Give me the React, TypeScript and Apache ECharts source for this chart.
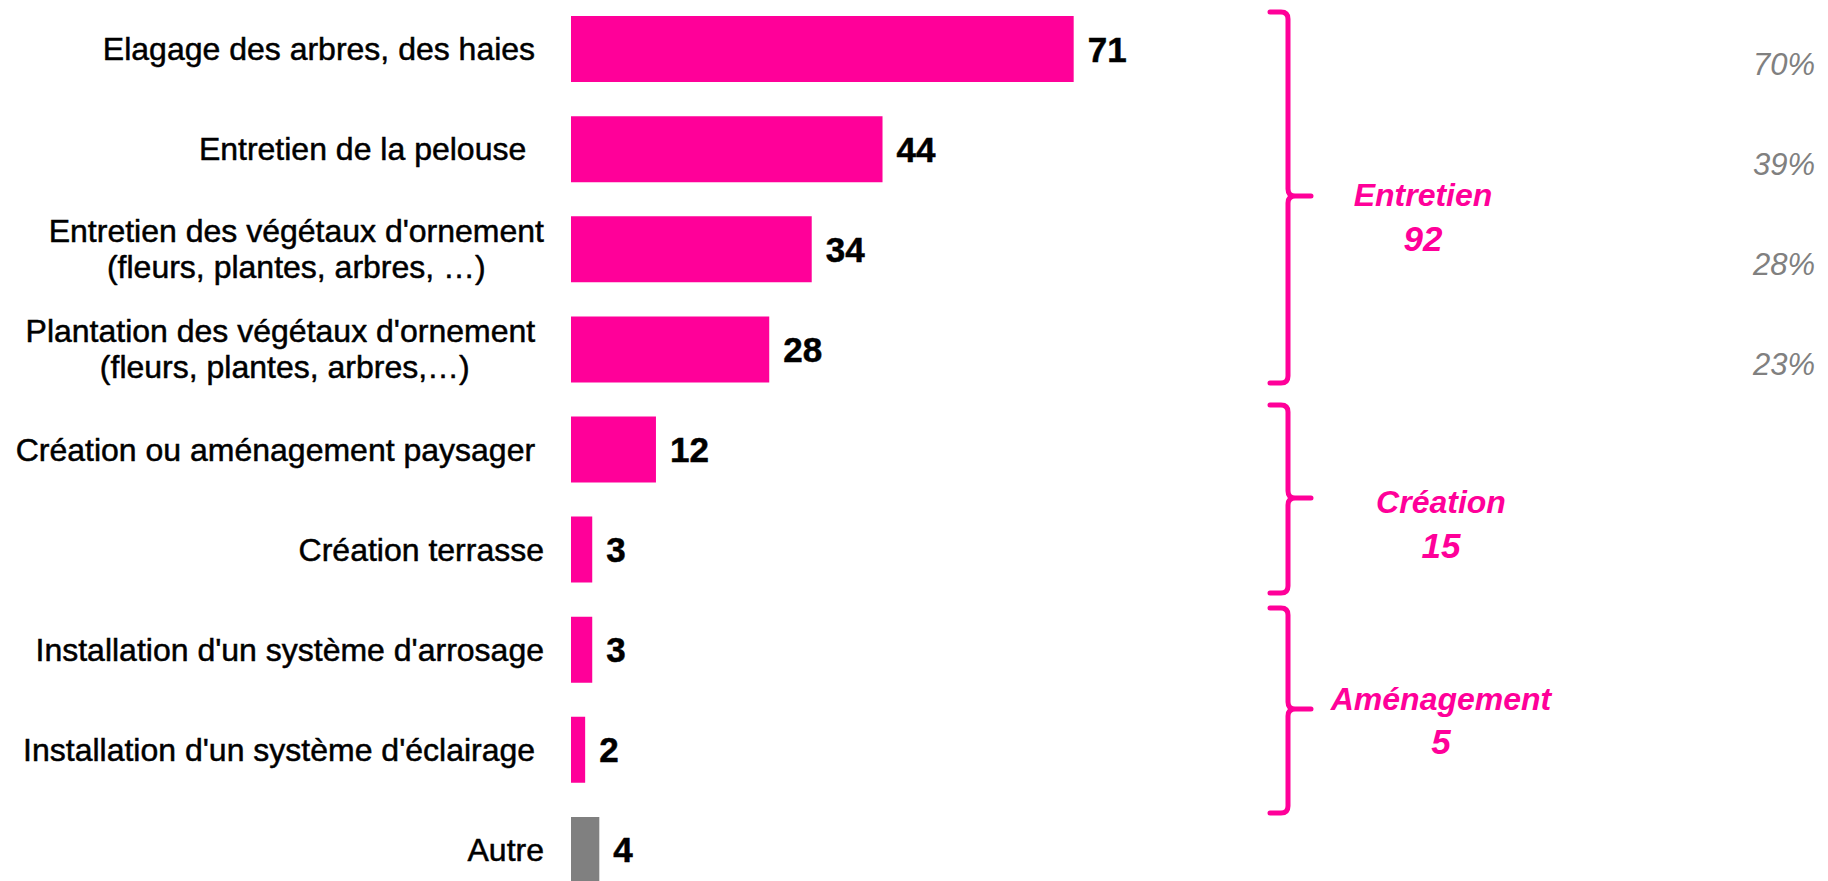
import React, { useEffect, useRef } from "react";
import * as echarts from "echarts";

// ---- data ----
const categories = [
  "Elagage des arbres, des haies ",
  "Entretien de la pelouse  ",
  "Entretien des végétaux d'ornement\n(fleurs, plantes, arbres, …)",
  "Plantation des végétaux d'ornement \n(fleurs, plantes, arbres,…)",
  "Création ou aménagement paysager ",
  "Création terrasse",
  "Installation d'un système d'arrosage",
  "Installation d'un système d'éclairage ",
  "Autre",
];
const values = [71, 44, 34, 28, 12, 3, 3, 2, 4];
const shareLabels = ["70%", "39%", "28%", "23%"];
const groupNames = ["Entretien", "Création", "Aménagement"];
const groupTotals = [92, 15, 5];

// ---- styles / layout ----
const MAGENTA = "#FF0099";
const GREY = "#808080";
const FONT = '"Liberation Sans", Arial, sans-serif';
const braceSpans = [
  [12, 196, 383],
  [405, 498, 593],
  [608, 709, 813],
];
const groupLabelPos = [
  [1423, 195, 238],
  [1441, 502, 545],
  [1441, 699, 741],
];
const BRACE_XL = 1270;
const BRACE_XV = 1288;
const BRACE_XT = 1311;

echarts.graphic.registerShape(
  "brace",
  echarts.graphic.extendShape({
    shape: { xl: 0, xv: 0, xt: 0, y1: 0, ym: 0, y2: 0, r: 7 },
    buildPath(ctx: any, s: any) {
      ctx.moveTo(s.xl, s.y1);
      ctx.lineTo(s.xv - s.r, s.y1);
      ctx.quadraticCurveTo(s.xv, s.y1, s.xv, s.y1 + s.r);
      ctx.lineTo(s.xv, s.ym - s.r);
      ctx.quadraticCurveTo(s.xv, s.ym, s.xv + s.r, s.ym);
      ctx.lineTo(s.xt, s.ym);
      ctx.moveTo(s.xv + s.r, s.ym);
      ctx.quadraticCurveTo(s.xv, s.ym, s.xv, s.ym + s.r);
      ctx.lineTo(s.xv, s.y2 - s.r);
      ctx.quadraticCurveTo(s.xv, s.y2, s.xv - s.r, s.y2);
      ctx.lineTo(s.xl, s.y2);
    },
  })
);

export default function App() {
  const ref = useRef<HTMLDivElement>(null);
  useEffect(() => {
    if (!ref.current) return;
    const chart = echarts.init(ref.current, null, { renderer: "svg" });
    chart.setOption({
      animation: false,
      grid: {
        left: 571,
        top: -1,
        width: 708,
        height: 901,
        containLabel: false,
        outerBoundsMode: "none",
      },
      xAxis: { type: "value", min: 0, max: 100, show: false },
      yAxis: {
        type: "category",
        inverse: true,
        data: categories,
        axisLine: { show: false },
        axisTick: { show: false },
        splitLine: { show: false },
        axisLabel: {
          margin: 27,
          fontSize: 32,
          lineHeight: 36,
          color: "#000",
          fontFamily: FONT,
          formatter: (v: string) =>
            v
              .split("\n")
              .map((l) => `{c|${l}}`)
              .join("\n"),
          rich: {
            c: {
              align: "center",
              fontSize: 32,
              lineHeight: 36,
              color: "#000",
              fontFamily: FONT,
              textBorderColor: "#000",
              textBorderWidth: 0.5,
            },
          },
        },
      },
      series: [
        {
          type: "bar",
          data: values.map((v, i) => ({
            value: v,
            itemStyle: { color: i === values.length - 1 ? GREY : MAGENTA },
          })),
          barWidth: 66,
          label: {
            show: true,
            position: "right",
            distance: 14,
            fontSize: 35,
            fontWeight: "bold",
            color: "#000",
            fontFamily: FONT,
            textBorderColor: "#000",
            textBorderWidth: 0.5,
          },
        },
      ],
    });

    const graphics: any[] = [];
    shareLabels.forEach((t, i) => {
      const y = chart.convertToPixel({ yAxisIndex: 0 }, i) as number;
      graphics.push({
        type: "text",
        x: 1815,
        y: y + 15,
        style: {
          text: t,
          fill: GREY,
          font: `italic 31px ${FONT}`,
          align: "right",
          verticalAlign: "middle",
        },
      });
    });
    braceSpans.forEach((s, i) => {
      graphics.push({
        type: "brace",
        shape: { xl: BRACE_XL, xv: BRACE_XV, xt: BRACE_XT, y1: s[0], ym: s[1], y2: s[2], r: 7 },
        style: { stroke: MAGENTA, lineWidth: 5, fill: null, lineCap: "round" },
      });
      const p = groupLabelPos[i];
      graphics.push({
        type: "text",
        x: p[0],
        y: p[1],
        style: {
          text: groupNames[i],
          fill: MAGENTA,
          font: `italic bold 32px ${FONT}`,
          align: "center",
          verticalAlign: "middle",
        },
      });
      graphics.push({
        type: "text",
        x: p[0],
        y: p[2],
        style: {
          text: String(groupTotals[i]),
          fill: MAGENTA,
          font: `italic bold 35px ${FONT}`,
          align: "center",
          verticalAlign: "middle",
        },
      });
    });
    chart.setOption({ graphic: graphics });
    return () => chart.dispose();
  }, []);
  return (
    <div
      ref={ref}
      style={{ position: "fixed", left: 0, top: 0, width: 1828, height: 881, background: "#fff" }}
    />
  );
}
